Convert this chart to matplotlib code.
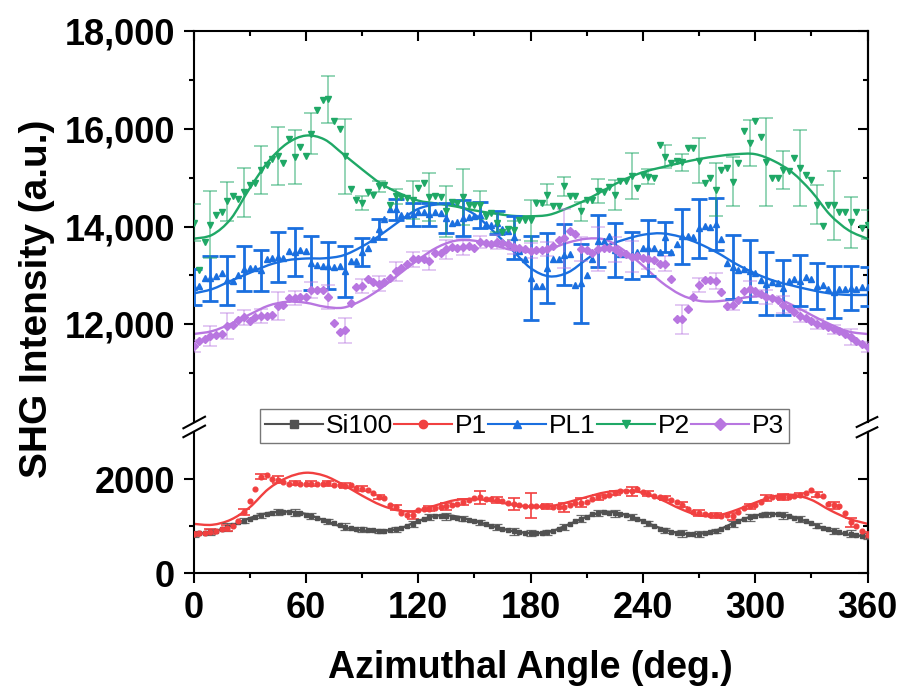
import numpy as np
import matplotlib
matplotlib.use("Agg")
import matplotlib.pyplot as plt
from matplotlib.path import Path
from matplotlib.patches import PathPatch
from matplotlib.lines import Line2D
from matplotlib.ticker import FixedLocator, FuncFormatter

plt.rcParams['font.family'] = ['Liberation Sans', 'DejaVu Sans']

# ---- data ----
angles = np.arange(0, 361, 3)          # measured points, deg
fit_angles = np.arange(0, 361, 10)     # fitted curve, deg
series = ["Si100", "P1", "PL1", "P2", "P3"]

si100 = [840, 850, 860, 880, 890, 930, 980, 1020, 1090, 1120,
         1160, 1200, 1230, 1250, 1280, 1300, 1310, 1300, 1290, 1270,
         1240, 1210, 1170, 1130, 1100, 1060, 1020, 990, 970, 950,
         930, 920, 910, 900, 900, 920, 930, 960, 1000, 1050,
         1100, 1150, 1190, 1210, 1220, 1210, 1200, 1180, 1160, 1140,
         1110, 1080, 1040, 1010, 980, 950, 920, 890, 870, 860,
         850, 850, 860, 870, 890, 930, 980, 1040, 1100, 1160,
         1200, 1250, 1280, 1300, 1290, 1270, 1250, 1230, 1190, 1150,
         1110, 1060, 1000, 950, 910, 880, 860, 850, 840, 840,
         840, 850, 870, 900, 940, 990, 1040, 1100, 1150, 1190,
         1220, 1240, 1250, 1260, 1250, 1230, 1210, 1180, 1150, 1110,
         1060, 1010, 970, 930, 900, 880, 860, 840, 820, 800,
         790]
p1 = [840, 850, 860, 880, 900, 930, 960, 1000, 1100, 1300,
      1540, 1800, 2050, 2090, 2000, 1990, 1930, 1900, 1920, 1900,
      1890, 1900, 1890, 1900, 1910, 1880, 1870, 1860, 1870, 1820,
      1800, 1760, 1700, 1620, 1600, 1440, 1400, 1280, 1240, 1230,
      1350, 1360, 1370, 1380, 1400, 1420, 1440, 1470, 1520, 1560,
      1600, 1610, 1580, 1570, 1560, 1540, 1500, 1470, 1440, 1430,
      1430, 1420, 1430, 1420, 1410, 1400, 1400, 1450, 1490, 1500,
      1520, 1570, 1610, 1640, 1670, 1700, 1740, 1750, 1740, 1780,
      1720, 1690, 1650, 1620, 1600, 1560, 1520, 1460, 1360, 1300,
      1280, 1250, 1230, 1230, 1220, 1230, 1210, 1310, 1380, 1420,
      1450, 1520, 1600, 1620, 1610, 1620, 1630, 1640, 1660, 1700,
      1760, 1670, 1640, 1480, 1440, 1420, 1270, 1080, 1000, 890,
      820]
pl1 = [12760, 12780, 12950, 12940, 12990, 13050, 12900, 12880, 13000, 13140,
       13160, 13150, 13100, 13340, 13350, 13370, 13350, 13490, 13480, 13510,
       13500, 13260, 13210, 13200, 13200, 13180, 13200, 13080, 13290, 13300,
       13470, 13560, 13750, 13950, 14150, 14360, 14350, 14240, 14230, 14250,
       14300, 14300, 14250, 14300, 14280, 14170, 14080, 14100, 14170, 14200,
       14220, 14240, 14050, 14030, 14080, 13950, 13900, 13780, 13500, 13340,
       12950, 12790, 12790, 13150, 13330, 13330, 13420, 13440, 12800, 12840,
       13000, 13330, 13700, 13700, 13800, 13520, 13430, 13430, 13410, 13480,
       13550, 13555, 13550, 13480, 13780, 13480, 13650, 13800, 13800, 13790,
       13960, 14020, 14000, 14050, 13735, 13245, 13170, 13110, 13130, 13090,
       13050, 12900, 12830, 12860, 12850, 12750, 12880, 12920, 12890, 12960,
       12920, 12790, 12800, 12720, 12660, 12720, 12720, 12740, 12720, 12760,
       12770]
p2 = [14080, 13100, 13680, 14040, 14230, 14300, 14520, 14620, 14560, 14700,
      14850, 14880, 15160, 15250, 15380, 15440, 15300, 15800, 15420, 15630,
      15450, 15900, 16380, 16590, 16600, 16150, 16000, 15440, 14770, 14550,
      14480, 14700, 14650, 14820, 14850, 14450, 14620, 14610, 14590, 14540,
      14790, 14900, 14600, 14620, 14600, 14310, 14500, 14480, 14600, 14430,
      14440, 14440, 14220, 14280, 14080, 13880, 13950, 13920, 14140, 14140,
      14130, 14490, 14480, 14650, 14420, 14410, 14820, 14630, 14630, 14310,
      14550, 14550, 14730, 14700, 14800, 14650, 14940, 14940, 15030, 14790,
      15060, 15020, 15000, 15670, 15430, 15300, 15340, 15310, 15610, 15610,
      15350, 14900, 14990, 14750, 15160, 15200, 14920, 15300, 15950, 15710,
      16150, 15830, 15310, 14990, 14990, 15160, 15130, 15400, 15200, 15060,
      14960, 14450, 14010, 14430, 14430, 14290, 14290, 14090, 14300, 13970,
      14040]
p3 = [11550, 11650, 11700, 11760, 11780, 11800, 11960, 11980, 12080, 12140,
      12070, 12150, 12170, 12160, 12180, 12380, 12390, 12540, 12540, 12550,
      12560, 12700, 12710, 12710, 12560, 12020, 11840, 11880, 12440, 12770,
      12780, 12920, 12870, 12830, 12860, 12950, 13080, 13150, 13230, 13330,
      13340, 13330, 13300, 13460, 13450, 13530, 13590, 13570, 13580, 13600,
      13560, 13680, 13670, 13650, 13680, 13670, 13640, 13580, 13550, 13540,
      13500, 13510, 13520, 13540, 13600, 13720, 13760, 13900, 13840, 13540,
      13510, 13460, 13540, 13570, 13560, 13530, 13450, 13440, 13380, 13390,
      13350, 13340, 13310, 13240, 13240, 12920, 12100, 12100, 12310, 12550,
      12800, 12900, 12900, 12880, 12670, 12380, 12400, 12500, 12680, 12720,
      12690, 12620, 12560, 12540, 12500, 12400, 12330, 12250, 12170, 12120,
      12060, 12000, 11980, 11940, 11900, 11860, 11800, 11740, 11650, 11600,
      11530]

# error bars, one every 9 deg
si100_err = [60, 70, 90, 60, 50, 60, 80, 60, 50, 70,
             60, 50, 60, 70, 60, 80, 60, 50, 60, 70,
             60, 50, 60, 70, 60, 80, 60, 50, 60, 70,
             60, 50, 60, 70, 60, 80, 60, 50, 60, 70, 60]
p1_err = [40, 50, 60, 70, 50, 70, 45, 50, 57, 55,
          60, 53, 50, 70, 53, 70, 64, 130, 60, 130,
          266, 60, 100, 90, 50, 40, 90, 50, 50, 60,
          70, 60, 70, 60, 60, 60, 50, 60, 80, 90, 60]
pl1_err = [367, 466, 500, 459, 425, 510, 490, 551, 483, 517,
           286, 204, 211, 238, 238, 313, 374, 262, 238, 435,
           860, 721, 622, 810, 527, 561, 476, 568, 310, 561,
           595, 534, 646, 633, 650, 565, 520, 469, 527, 449, 400]
p2_err = [380, 680, 400, 500, 490, 590, 550, 425, 475, 765,
          150, 120, 150, 390, 490, 525, 575, 290, 200, 200,
          420, 220, 200, 190, 240, 305, 470, 150, 240, 170,
          460, 545, 500, 475, 900, 385, 780, 400, 715, 520, 300]
p3_err = [120, 200, 260, 150, 150, 290, 150, 160, 250, 255,
          150, 150, 200, 150, 200, 200, 170, 130, 150, 150,
          153, 150, 600, 250, 450, 250, 320, 200, 150, 300,
          150, 160, 100, 160, 150, 170, 120, 100, 90, 170, 100]

# fitted curves
si100_fit = [836, 880, 1010, 1170, 1280, 1310, 1260, 1120, 980, 910,
             900, 950, 1110, 1225, 1210, 1110, 1000, 900, 855, 880,
             1030, 1200, 1305, 1250, 1110, 950, 850, 840, 920, 1095,
             1225, 1262, 1200, 1060, 910, 820, 790]
p1_fit = [1050, 1030, 1140, 1400, 1790, 2030, 2135, 2070, 1880, 1650,
          1450, 1330, 1330, 1450, 1555, 1575, 1535, 1460, 1415, 1420,
          1510, 1620, 1720, 1755, 1710, 1560, 1370, 1230, 1230, 1345,
          1500, 1635, 1665, 1560, 1340, 1160, 1050]
pl1_fit = [12630, 12720, 12890, 13050, 13210, 13310, 13345, 13350, 13410, 13590,
           13830, 14110, 14360, 14450, 14430, 14250, 13910, 13530, 13150, 12980,
           13060, 13330, 13590, 13730, 13830, 13860, 13790, 13650, 13460, 13230,
           13040, 12890, 12790, 12700, 12630, 12600, 12600]
p2_fit = [13750, 13830, 14160, 14780, 15330, 15700, 15860, 15780, 15480, 15170,
          14880, 14680, 14530, 14470, 14410, 14330, 14270, 14220, 14210, 14240,
          14380, 14550, 14760, 14960, 15110, 15210, 15300, 15380, 15440, 15480,
          15480, 15340, 15100, 14720, 14240, 13920, 13750]
p3_fit = [11800, 11860, 12010, 12200, 12380, 12460, 12440, 12360, 12340, 12490,
          12730, 13030, 13320, 13570, 13710, 13710, 13620, 13520, 13480, 13540,
          13670, 13750, 13730, 13510, 13200, 12860, 12610, 12480, 12470, 12520,
          12570, 12550, 12390, 12190, 12000, 11850, 11800]

colors = ["#515151", "#F14040", "#1A6FDF", "#1FA866", "#B876E0"]
markers = ["s", "o", "^", "v", "D"]
msizes = [3.4, 3.4, 4.8, 4.8, 3.6]

W, H = 905, 690


def fx(px):
    return px / W


def fy(py):
    return 1 - py / H


def smooth_patch(x, y, color):
    # Catmull-Rom through the fit values, drawn as cubic Bezier segments
    pts = np.column_stack([x, y]).astype(float)
    verts = [pts[0]]
    codes = [Path.MOVETO]
    n = len(pts)
    for i in range(n - 1):
        p0 = pts[max(i - 1, 0)]
        p1_ = pts[i]
        p2_ = pts[i + 1]
        p3_ = pts[min(i + 2, n - 1)]
        verts += [p1_ + (p2_ - p0) / 6, p2_ - (p3_ - p1_) / 6, p2_]
        codes += [Path.CURVE4] * 3
    return PathPatch(Path(verts, codes), fill=False, edgecolor=color,
                     lw=1.7, zorder=2)


fig = plt.figure(figsize=(W / 100, H / 100), dpi=100)
left, right = 193.5, 867.5
ax_top = fig.add_axes([fx(left), fy(422), fx(right - left), (422 - 31) / H])
ax_bot = fig.add_axes([fx(left), fy(573.3), fx(right - left), (573.3 - 432) / H])

data = {"Si100": (si100, si100_err, si100_fit, ax_bot),
        "P1": (p1, p1_err, p1_fit, ax_bot),
        "PL1": (pl1, pl1_err, pl1_fit, ax_top),
        "P2": (p2, p2_err, p2_fit, ax_top),
        "P3": (p3, p3_err, p3_fit, ax_top)}

err_style = {"Si100": dict(elinewidth=0.9, capsize=3.5, capthick=0.9, alpha=0.85),
             "P1": dict(elinewidth=1.2, capsize=4, capthick=1.2, alpha=1.0),
             "PL1": dict(elinewidth=2.0, capsize=5.5, capthick=2.0, alpha=1.0),
             "P2": dict(elinewidth=1.1, capsize=5, capthick=1.1, alpha=0.6),
             "P3": dict(elinewidth=1.1, capsize=5, capthick=1.1, alpha=0.5)}

handles = []
for name, c, m, ms in zip(series, colors, markers, msizes):
    vals, errs, fit, ax = data[name]
    vals = np.array(vals)
    ax.errorbar(angles[::3], vals[::3], yerr=errs, fmt="none", ecolor=c,
                zorder=3, **err_style[name])
    ax.add_patch(smooth_patch(fit_angles, fit, c))
    ax.plot(angles, vals, ls="none", marker=m, ms=ms, color=c, mec=c,
            zorder=4)
    handles.append(Line2D([], [], color=c, marker=m, ms=6, lw=1.5))

for ax in (ax_top, ax_bot):
    ax.set_xlim(0, 360)
    for s in ax.spines.values():
        s.set_linewidth(1.5)
    ax.xaxis.set_major_locator(FixedLocator(np.arange(0, 361, 60)))
    ax.xaxis.set_minor_locator(FixedLocator(np.arange(30, 360, 60)))
    ax.tick_params(axis="y", which="both", direction="out", right=False,
                   width=1.5, labelsize=26, pad=6)
    ax.tick_params(axis="y", which="major", length=7.5)
    ax.tick_params(axis="y", which="minor", length=3.8)

ax_top.set_ylim(10000, 18000)
ax_top.yaxis.set_major_locator(FixedLocator([12000, 14000, 16000, 18000]))
ax_top.yaxis.set_minor_locator(FixedLocator([11000, 13000, 15000, 17000]))
ax_top.yaxis.set_major_formatter(FuncFormatter(lambda v, p: f"{v:,.0f}"))
ax_top.spines["bottom"].set_visible(False)
ax_top.tick_params(axis="x", which="both", direction="in", top=True,
                   bottom=False, labelbottom=False, width=1.5)
ax_top.tick_params(axis="x", which="major", length=7.5)
ax_top.tick_params(axis="x", which="minor", length=3.8)

ax_bot.set_ylim(0, 3000)
ax_bot.yaxis.set_major_locator(FixedLocator([0, 2000]))
ax_bot.yaxis.set_minor_locator(FixedLocator([1000]))
ax_bot.spines["top"].set_visible(False)
ax_bot.tick_params(axis="x", which="both", direction="out", top=False,
                   width=1.5, labelsize=26, pad=5)
ax_bot.tick_params(axis="x", which="major", length=7.5)
ax_bot.tick_params(axis="x", which="minor", length=3.8)

for ax in (ax_top, ax_bot):
    for lab in ax.get_yticklabels() + ax.get_xticklabels():
        lab.set_fontweight("bold")
    sec = ax.secondary_yaxis("right")
    sec.spines["right"].set_linewidth(1.5)
    sec.yaxis.set_major_locator(FixedLocator(ax.yaxis.get_majorticklocs()))
    sec.yaxis.set_minor_locator(FixedLocator(ax.yaxis.get_minorticklocs()))
    sec.tick_params(axis="y", which="both", direction="in", labelright=False,
                    width=1.5)
    sec.tick_params(axis="y", which="major", length=7.5)
    sec.tick_params(axis="y", which="minor", length=3.8)

# axis break marks
for cx, cys, dx, dy in [(194.2, (422.5, 431.4), 10.8, 5.8),
                        (867.0, (422.0, 432.3), 10.3, 5.0)]:
    for cy in cys:
        fig.add_artist(Line2D([fx(cx - dx), fx(cx + dx)],
                              [fy(cy + dy), fy(cy - dy)],
                              color="black", lw=1.5))

fig.legend(handles, series, loc="center", bbox_to_anchor=(fx(524.5), fy(426)),
           ncol=5, fontsize=19, frameon=True, fancybox=False,
           edgecolor="#555555", handlelength=2.2, handletextpad=0.1,
           columnspacing=0.05, borderpad=0.2, borderaxespad=0)

fig.text(fx(530), fy(668), "Azimuthal Angle (deg.)", ha="center",
         va="center", fontsize=27, fontweight="bold")
fig.text(fx(37), fy(299), "SHG Intensity (a.u.)", ha="center", va="center",
         rotation=90, fontsize=28, fontweight="bold")

fig.savefig("out.png", dpi=100)
